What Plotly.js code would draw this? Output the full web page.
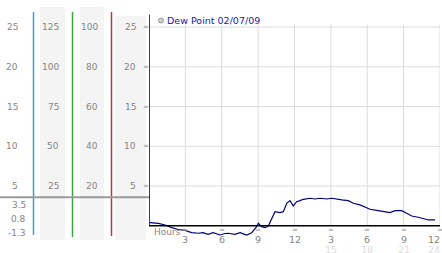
<!DOCTYPE html>
<html><head><meta charset="utf-8">
<script src="https://cdn.plot.ly/plotly-3.0.1.min.js"></script>
<style>html,body{margin:0;padding:0;background:#fff}#chart{width:442px;height:253px}</style>
</head><body><div id="chart"></div>
<script>
// ---- data ----
const hours = [0.08,0.49,0.77,1.32,1.87,2.42,2.97,3.52,4.07,4.45,4.87,5.28,5.86,6.27,6.54,7.09,7.51,8.06,8.47,8.88,9.02,9.29,9.57,9.84,10.12,10.39,10.80,11.08,11.36,11.63,11.90,12.18,12.45,12.73,13.28,13.69,14.10,14.66,15.07,15.48,15.90,16.44,16.85,17.40,17.81,18.23,18.91,19.46,19.88,20.29,20.84,21.25,21.67,22.21,22.62,23.04,23.59];
const dewPoint = [0.39,0.39,0.31,0.10,-0.24,-0.47,-0.59,-0.87,-0.94,-0.87,-1.09,-0.87,-1.16,-0.97,-0.94,-1.07,-0.87,-1.16,-0.87,-0.11,0.31,-0.11,-0.24,-0.03,0.94,1.77,1.65,1.77,2.83,3.16,2.49,3.03,3.16,3.33,3.46,3.37,3.46,3.37,3.46,3.33,3.25,3.16,2.83,2.62,2.36,2.08,1.90,1.77,1.65,1.90,1.90,1.57,1.23,1.07,0.94,0.73,0.73];
const seriesName = 'Dew Point 02/07/09';
const xTickVals = [3,6,9,12,15,18,21,24];
const xTickText = ['3','6','9','12','3','6','9','12'];
const xTickVals2 = [15,18,21,24];
const xTickText2 = ['15','18','21','24'];
const yTickVals = [5,10,15,20,25];
const col1Labels = ['5','10','15','20','25'];
const col2Labels = ['25','50','75','100','125'];
const col3Labels = ['20','40','60','80','100'];
const col4Labels = ['5','10','15','20','25'];
const miniLabels = ['3.5','0.8','-1.3'];

// ---- layout helpers ----
const W = 442, H = 253;
const px = x => x / W;
const py = y => 1 - y / H;
const FONT = 'DejaVu Sans';
const GREY = '#858585';

const shapes = [];
const ann = [];

// bands
[[40,65,7,240],[80,104,7,240],[115,146,16,240]].forEach(b => shapes.push({type:'rect',xref:'paper',yref:'paper',x0:px(b[0]),x1:px(b[1]),y0:py(b[3]),y1:py(b[2]),fillcolor:'#f4f4f4',line:{width:0},layer:'below'}));
// colored vertical lines
[[33.5,'#3a9fc8',12,235],[72.5,'#3aa63a',12,237],[111.5,'#b03a3a',12,236]].forEach(l => shapes.push({type:'line',xref:'paper',yref:'paper',x0:px(l[0]),x1:px(l[0]),y0:py(l[3]),y1:py(l[2]),line:{color:l[1],width:1.5}}));
// grey horizontal separator
shapes.push({type:'line',xref:'paper',yref:'paper',x0:0,x1:px(150),y0:py(197.3),y1:py(197.3),line:{color:'#9a9a9a',width:2}});
// grid
xTickVals.forEach(h => shapes.push({type:'line',xref:'x',yref:'y',x0:h,x1:h,y0:0,y1:25.3,line:{color:'#dcdcdc',width:1},layer:'below'}));
yTickVals.forEach(v => shapes.push({type:'line',xref:'x',yref:'y',x0:0,x1:24,y0:v,y1:v,line:{color:'#dcdcdc',width:1},layer:'below'}));
// axes lines
shapes.push({type:'line',xref:'x',yref:'y',x0:0,x1:0,y0:0,y1:26.6,line:{color:'#000',width:1.5}});
shapes.push({type:'line',xref:'x',yref:'y',x0:0,x1:24,y0:0,y1:0,line:{color:'#000',width:1.5}});
// legend circle
shapes.push({type:'circle',xref:'paper',yref:'paper',x0:px(158.5),x1:px(163.5),y0:py(23),y1:py(18),fillcolor:'#cfcfcf',line:{color:'#999',width:1}});

const f = (c, s) => ({family: FONT, size: s || 9, color: c || GREY});
// left label columns
yTickVals.forEach((v, i) => {
  ann.push({xref:'paper',yref:'y',x:px(20),y:v,xanchor:'right',yanchor:'middle',text:col1Labels[i],showarrow:false,font:f()});
  ann.push({xref:'paper',yref:'y',x:px(60.5),y:v,xanchor:'right',yanchor:'middle',text:col2Labels[i],showarrow:false,font:f()});
  ann.push({xref:'paper',yref:'y',x:px(99.5),y:v,xanchor:'right',yanchor:'middle',text:col3Labels[i],showarrow:false,font:f()});
  ann.push({xref:'paper',yref:'y',x:px(138),y:v,xanchor:'right',yanchor:'middle',text:col4Labels[i],showarrow:false,font:f()});
  ann.push({xref:'paper',yref:'y',x:px(145.5),y:v,xanchor:'center',yanchor:'middle',text:'≈',showarrow:false,font:f('#999',7)});
});
[205,219,233].forEach((yy, i) => ann.push({xref:'paper',yref:'paper',x:px(27.5),y:py(yy),xanchor:'right',yanchor:'middle',text:miniLabels[i],showarrow:false,font:f()}));
// x tick labels
xTickVals.forEach((h, i) => {
  ann.push({xref:'x',yref:'paper',x:h,y:py(239),xanchor:'center',yanchor:'middle',text:xTickText[i],showarrow:false,font:f(GREY,9.5),xshift:(h===24?-6:0),height:10});
  ann.push({xref:'x',yref:'paper',x:h,y:py(229),xanchor:'center',yanchor:'middle',text:'≈',showarrow:false,font:f('#999',7),height:7});
});
xTickVals2.forEach((h, i) => ann.push({xref:'x',yref:'paper',x:h,y:py(248.5),xanchor:'center',yanchor:'middle',text:xTickText2[i],showarrow:false,font:f('#dddddd',9.5),xshift:(h===24?-6:0),height:10}));
ann.push({xref:'paper',yref:'paper',x:px(152),y:py(232),xanchor:'left',yanchor:'middle',text:'Hours',showarrow:false,font:f(GREY,9)});
// legend text
ann.push({xref:'paper',yref:'paper',x:px(164.5),y:py(20.5),xanchor:'left',yanchor:'middle',text:seriesName,showarrow:false,font:f('#1a1aa8',9.5)});

const trace = {x: hours, y: dewPoint, type:'scatter', mode:'lines', name: seriesName, line:{color:'#000080', width:1.2}, hoverinfo:'skip'};

const layout = {
  width: W, height: H, margin:{l:0,r:0,t:0,b:0},
  paper_bgcolor:'#fff', plot_bgcolor:'rgba(0,0,0,0)', showlegend:false,
  xaxis:{domain:[px(149), px(440)], range:[0,24], showgrid:false, zeroline:false, showticklabels:false, showline:false, fixedrange:true},
  yaxis:{domain:[py(236.9), py(14.3)], range:[-1.4,26.6], showgrid:false, zeroline:false, showticklabels:false, showline:false, fixedrange:true},
  shapes: shapes, annotations: ann
};
Plotly.newPlot('chart', [trace], layout, {staticPlot:true, displayModeBar:false});
</script></body></html>
